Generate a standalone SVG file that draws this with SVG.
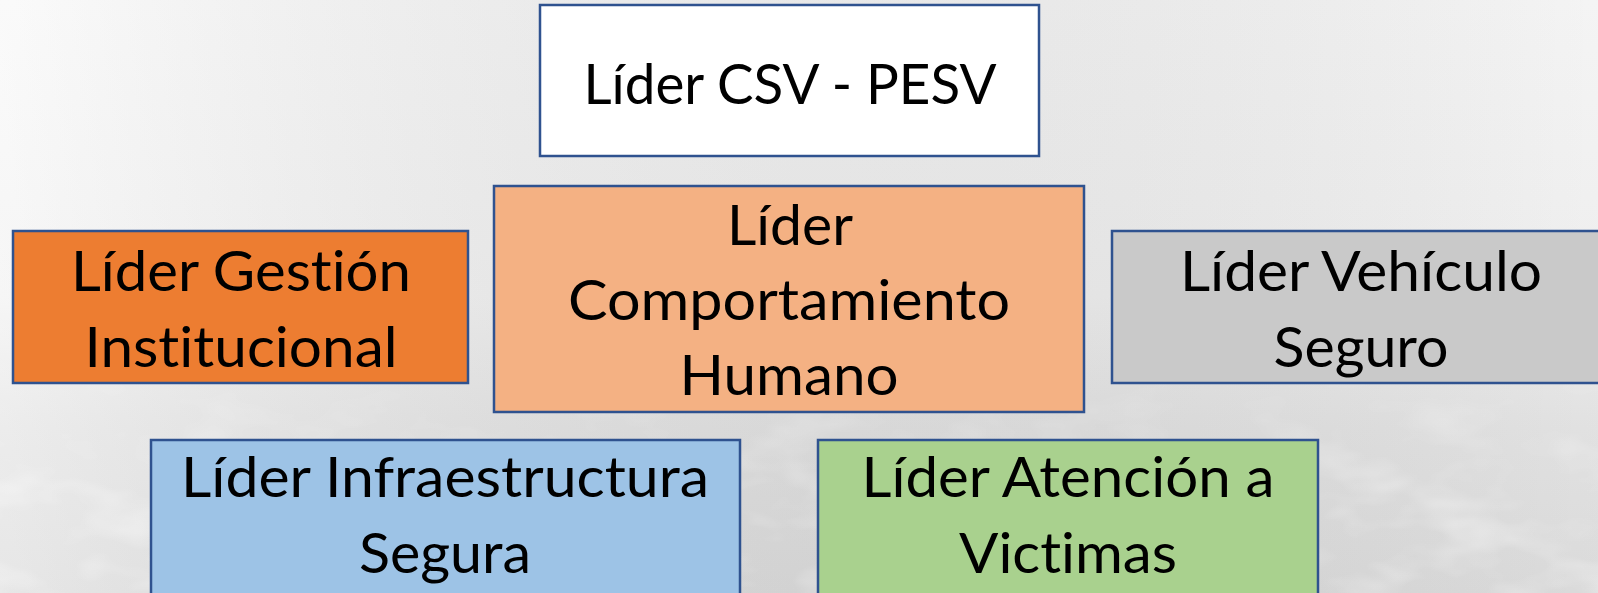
<svg xmlns="http://www.w3.org/2000/svg" width="1598" height="593" viewBox="0 0 1598 593">
<style>
.box{stroke:#2f528f;stroke-width:2.5}
.t{font-family:Lato,"Liberation Sans",sans-serif;font-size:57px;fill:#000;text-anchor:middle;font-variant-ligatures:none;font-feature-settings:"liga" 0,"clig" 0}
</style>
<defs>
<linearGradient id="bg" x1="0" y1="0" x2="0" y2="1">
<stop offset="0" stop-color="#f9f9f9"/>
<stop offset="0.5" stop-color="#f3f3f3"/>
<stop offset="0.72" stop-color="#e6e6e6"/>
<stop offset="1" stop-color="#dfdfdf"/>
</linearGradient>
<linearGradient id="bgh" x1="0" y1="0" x2="1" y2="0">
<stop offset="0" stop-color="#ffffff" stop-opacity="0.25"/>
<stop offset="1" stop-color="#000000" stop-opacity="0.02"/>
</linearGradient>
<linearGradient id="fade" x1="0" y1="0" x2="0" y2="1">
<stop offset="0.6" stop-color="#fff" stop-opacity="0"/>
<stop offset="0.82" stop-color="#fff" stop-opacity="0.8"/>
</linearGradient>
<mask id="m"><rect width="1598" height="593" fill="url(#fade)"/></mask>
<filter id="tex" x="0" y="0" width="1" height="1">
<feTurbulence type="fractalNoise" baseFrequency="0.012 0.025" numOctaves="3" seed="7"/>
<feColorMatrix type="matrix" values="0 0 0 0 1  0 0 0 0 1  0 0 0 0 1  1.1 0 0 0 -0.5"/>
</filter>
</defs>
<rect width="1598" height="593" fill="url(#bg)"/>
<rect width="1598" height="593" fill="url(#bgh)"/>
<g mask="url(#m)"><rect width="1598" height="593" filter="url(#tex)"/></g>

<g id="connectors"/>

<g id="lider-csv-pesv">
<rect class="box" x="540" y="5" width="499" height="151" fill="#ffffff"/>
<text class="t" x="790" y="104" textLength="413" lengthAdjust="spacingAndGlyphs">Líder CSV - PESV</text>
</g>

<g id="lider-gestion-institucional">
<rect class="box" x="13" y="231" width="455" height="152" fill="#ed7d31"/>
<text class="t" x="241" y="291" textLength="340" lengthAdjust="spacingAndGlyphs">Líder Gestión</text>
<text class="t" x="241" y="367" textLength="313" lengthAdjust="spacingAndGlyphs">Institucional</text>
</g>

<g id="lider-comportamiento-humano">
<rect class="box" x="494" y="186" width="590" height="226" fill="#f4b183"/>
<text class="t" x="790" y="245" textLength="126" lengthAdjust="spacingAndGlyphs">Líder</text>
<text class="t" x="789" y="320" textLength="442" lengthAdjust="spacingAndGlyphs">Comportamiento</text>
<text class="t" x="789" y="395" textLength="219" lengthAdjust="spacingAndGlyphs">Humano</text>
</g>

<g id="lider-vehiculo-seguro">
<rect class="box" x="1112" y="231" width="500" height="152" fill="#c9c9c9"/>
<text class="t" x="1361" y="291" textLength="362" lengthAdjust="spacingAndGlyphs">Líder Vehículo</text>
<text class="t" x="1361" y="367" textLength="175" lengthAdjust="spacingAndGlyphs">Seguro</text>
</g>

<g id="lider-infraestructura-segura">
<rect class="box" x="151" y="440" width="589" height="160" fill="#9dc3e6"/>
<text class="t" x="445" y="497" textLength="528" lengthAdjust="spacingAndGlyphs">Líder Infraestructura</text>
<text class="t" x="445" y="573" textLength="172" lengthAdjust="spacingAndGlyphs">Segura</text>
</g>

<g id="lider-atencion-victimas">
<rect class="box" x="818" y="440" width="500" height="160" fill="#a9d18e"/>
<text class="t" x="1068" y="497" textLength="413" lengthAdjust="spacingAndGlyphs">Líder Atención a</text>
<text class="t" x="1068" y="573" textLength="218" lengthAdjust="spacingAndGlyphs">Victimas</text>
</g>
</svg>
